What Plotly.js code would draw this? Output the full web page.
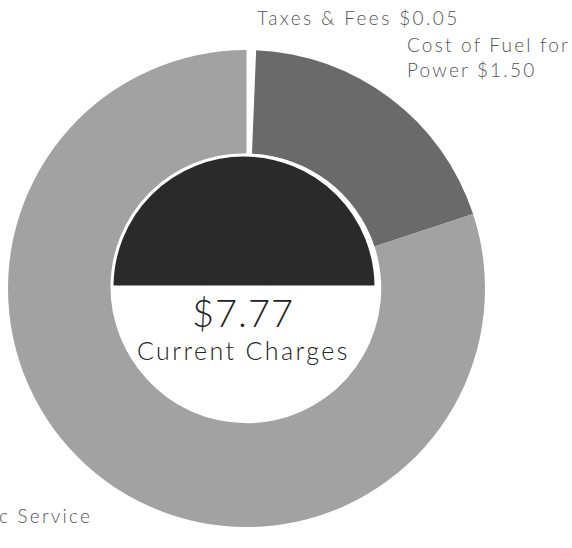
<!DOCTYPE html>
<html>
<head>
<meta charset="utf-8">
<script src="https://cdn.plot.ly/plotly-3.0.1.min.js"></script>
<style>html,body{margin:0;padding:0;background:#fff;}#chart{width:572px;height:548px;}</style>
</head>
<body>
<div id="chart"></div>
<script>
// ---- data ----
const categories = ['Taxes & Fees', 'Cost of Fuel for Power', 'Electric Service'];
const amounts = [0.05, 1.50, 6.22];
const sliceColors = ['#ffffff', '#6a6a6a', '#a2a2a2'];
const totalLabel = '$7.77';
const totalCaption = 'Current Charges';
const centerHalves = [1, 1];           // white lower half, dark upper half
const centerColors = ['#ffffff', '#2a2a2a'];
const labelTexts = ['Taxes & Fees $0.05', 'Cost of Fuel for<br>Power $1.50', 'c Service'];

const W = 572, H = 548;
const px = x => x / W;
const py = y => 1 - y / H;
const spaced = (t, s) => t.split('<br>').map(l => '<span style="letter-spacing:' + s + 'px">' + l + '</span>').join('<br>');

const ring = {
  type: 'pie',
  labels: categories,
  values: amounts,
  sort: false,
  direction: 'clockwise',
  rotation: 0,
  hole: 0.565,
  textinfo: 'none',
  hoverinfo: 'label+value',
  marker: { colors: sliceColors, line: { color: '#ffffff', width: 0 } },
  domain: { x: [px(8), px(485)], y: [py(527), py(50)] },
  showlegend: false
};

const center = {
  type: 'pie',
  labels: ['lower', 'upper'],
  values: centerHalves,
  sort: false,
  direction: 'clockwise',
  rotation: 90,
  textinfo: 'none',
  hoverinfo: 'skip',
  marker: { colors: centerColors, line: { color: '#ffffff', width: 3 } },
  domain: { x: [px(244 - 132), px(244 + 132)], y: [py(287 + 132), py(287 - 132)] },
  showlegend: false
};

const labelFont = { family: 'Lato, sans-serif', size: 19, color: '#555555', weight: 300 };

const layout = {
  width: W, height: H,
  margin: { l: 0, r: 0, t: 0, b: 0 },
  paper_bgcolor: '#ffffff',
  showlegend: false,
  annotations: [
    { xref: 'paper', yref: 'paper', x: px(255), y: py(17), xanchor: 'left', yanchor: 'middle',
      text: spaced(labelTexts[0], 2.4), showarrow: false, font: labelFont },
    { xref: 'paper', yref: 'paper', x: px(405), y: py(57), xanchor: 'left', yanchor: 'middle', align: 'left',
      text: spaced(labelTexts[1], 2.2), showarrow: false, font: labelFont },
    { xref: 'paper', yref: 'paper', x: px(-3), y: py(515), xanchor: 'left', yanchor: 'middle',
      text: spaced(labelTexts[2], 2.2), showarrow: false, font: labelFont },
    { xref: 'paper', yref: 'paper', x: px(243), y: py(312), xanchor: 'center', yanchor: 'middle',
      text: spaced(totalLabel, 1), showarrow: false, font: { family: 'Lato, sans-serif', size: 38, color: '#222222', weight: 300 } },
    { xref: 'paper', yref: 'paper', x: px(243), y: py(350), xanchor: 'center', yanchor: 'middle',
      text: spaced(totalCaption, 2.4), showarrow: false, font: { family: 'Lato, sans-serif', size: 25, color: '#222222', weight: 300 } }
  ]
};

Plotly.newPlot('chart', [ring, center], layout, { staticPlot: true, displayModeBar: false });
</script>
</body>
</html>
